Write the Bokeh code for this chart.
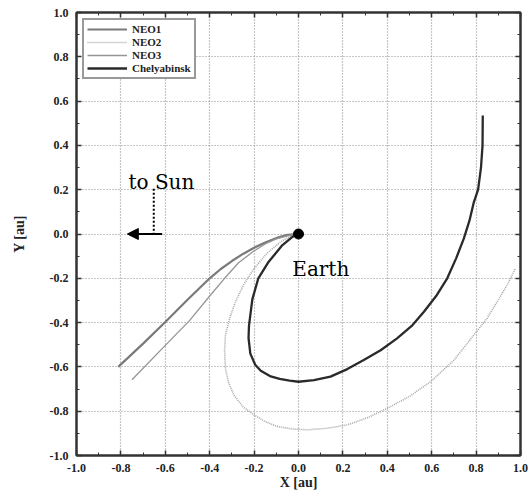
from bokeh.plotting import figure
from bokeh.models import (LinearAxis, Range1d, FixedTicker, PrintfTickFormatter,
                          Legend, LegendItem, Arrow, NormalHead, CustomLabelingPolicy)
from bokeh.core.properties import value
from bokeh.embed import file_html
from bokeh.resources import INLINE

# ---------------- data ----------------
major_ticks = [-1.0, -0.8, -0.6, -0.4, -0.2, 0.0, 0.2, 0.4, 0.6, 0.8, 1.0]
minor_ticks = [-0.9, -0.7, -0.5, -0.3, -0.1, 0.1, 0.3, 0.5, 0.7, 0.9]

neo1_x = [0, -0.05, -0.09, -0.15, -0.2, -0.25, -0.3, -0.35, -0.4, -0.45, -0.5, -0.6, -0.7, -0.812]
neo1_y = [0, -0.004, -0.015, -0.038, -0.062, -0.09, -0.122, -0.158, -0.2, -0.248, -0.297, -0.397, -0.495, -0.6]

neo2_x = [0, -0.04, -0.081, -0.14, -0.2, -0.245, -0.284, -0.31, -0.329, -0.333,
          -0.329, -0.315, -0.291, -0.25, -0.2, -0.15, -0.096, -0.03, 0.039, 0.13,
          0.219, 0.31, 0.4, 0.5, 0.595, 0.7, 0.79, 0.85, 0.895, 0.94, 0.977]
neo2_y = [0, -0.012, -0.036, -0.085, -0.156, -0.225, -0.306, -0.38, -0.456, -0.53,
          -0.607, -0.67, -0.727, -0.78, -0.817, -0.847, -0.869, -0.88, -0.884, -0.877,
          -0.862, -0.83, -0.787, -0.733, -0.667, -0.57, -0.456, -0.38, -0.306, -0.23, -0.156]

neo3_x = [0, -0.05, -0.1, -0.15, -0.2, -0.27, -0.333, -0.4, -0.49, -0.6, -0.75]
neo3_y = [0, -0.008, -0.022, -0.045, -0.076, -0.13, -0.2, -0.28, -0.39, -0.503, -0.658]

chel_x = [0, -0.03, -0.075, -0.137, -0.181, -0.208, -0.223, -0.225, -0.217, -0.195,
          -0.17, -0.125, -0.085, -0.04, 0.0, 0.07, 0.144, 0.22, 0.294, 0.37, 0.444,
          0.51, 0.565, 0.62, 0.67, 0.71, 0.745, 0.77, 0.79, 0.809, 0.822, 0.829, 0.83]
chel_y = [0, -0.015, -0.053, -0.129, -0.2, -0.295, -0.414, -0.47, -0.54, -0.59,
          -0.617, -0.643, -0.654, -0.662, -0.667, -0.66, -0.644, -0.61, -0.569, -0.525, -0.471,
          -0.415, -0.351, -0.28, -0.2, -0.11, -0.02, 0.06, 0.144, 0.2, 0.3, 0.4, 0.535]

earth_x = [0.0]
earth_y = [0.0]

note_x = [-0.766, -0.028]
note_y = [0.235, -0.156]
note_text = ["to Sun", "Earth"]

sun_dot_x = [-0.652, -0.652]
sun_dot_y = [0.204, 0.0]
sun_arrow_x = [-0.614, -0.771]
sun_arrow_y = [0.0, 0.0]

# ---------------- figure ----------------
p = figure(width=531, height=498, x_range=Range1d(-1, 1), y_range=Range1d(-1, 1),
           output_backend="svg", toolbar_location=None,
           min_border_left=76, min_border_right=11, min_border_top=12, min_border_bottom=43)
p.background_fill_color = "white"
p.border_fill_color = "white"
p.outline_line_color = "#333333"
p.outline_line_width = 2

ticker = FixedTicker(ticks=major_ticks, minor_ticks=minor_ticks)
fmt = PrintfTickFormatter(format="%.1f")
hide_all = CustomLabelingPolicy(code="""
    for (const i of indices) indices.unset(i)
    return indices
""")

def style_axis(ax, show_labels=True):
    ax.ticker = ticker
    ax.formatter = fmt
    ax.major_tick_in = 5
    ax.major_tick_out = 0
    ax.minor_tick_in = 3
    ax.minor_tick_out = 0
    ax.major_tick_line_color = "#333333"
    ax.minor_tick_line_color = "#333333"
    ax.major_tick_line_width = 1.5
    ax.axis_line_color = "#333333"
    ax.axis_line_width = 2
    ax.major_label_text_font = "Liberation Serif"
    ax.major_label_text_font_style = "bold"
    ax.major_label_text_color = "#222222"
    if show_labels:
        ax.major_label_text_font_size = "12px"
        ax.major_label_standoff = 8
    else:
        ax.major_label_text_font_size = "1px"
        ax.major_label_standoff = 0
        ax.major_label_policy = hide_all
    ax.axis_label_text_font = "Liberation Serif"
    ax.axis_label_text_font_style = "bold"
    ax.axis_label_text_font_size = "14px"
    ax.axis_label_text_color = "#222222"

style_axis(p.xaxis[0])
style_axis(p.yaxis[0])
p.xaxis.axis_label = "X [au]"
p.yaxis.axis_label = "Y [au]"
p.xaxis.axis_label_standoff = 0
p.yaxis.axis_label_standoff = 20

top_ax = LinearAxis()
right_ax = LinearAxis()
style_axis(top_ax, False)
style_axis(right_ax, False)
p.add_layout(top_ax, "above")
p.add_layout(right_ax, "right")

for g in (p.xgrid[0], p.ygrid[0]):
    g.ticker = ticker
    g.grid_line_color = "#8c8c8c"
    g.grid_line_dash = "1 2"
    g.grid_line_width = 1.2

# ---------------- series ----------------
r1 = p.line(neo1_x, neo1_y, line_color="#7a7a7a", line_width=2.2)
r2 = p.line(neo2_x, neo2_y, line_color="#a8a8a8", line_width=1.6, line_dash="1 1")
r3 = p.line(neo3_x, neo3_y, line_color="#959595", line_width=1.3)
r4 = p.line(chel_x, chel_y, line_color="#2a2a2a", line_width=2.3)

p.scatter(earth_x, earth_y, size=10, color="black")

p.text(x=note_x, y=note_y, text=note_text, text_font=value("DejaVu Serif"),
       text_font_size="20px", text_color="black", text_baseline="alphabetic",
       text_align="left")

p.line(sun_dot_x, sun_dot_y, line_color="black", line_width=2, line_dash="2 2")
p.add_layout(Arrow(end=NormalHead(size=11, fill_color="black", line_color="black"),
                   x_start=sun_arrow_x[0], y_start=sun_arrow_y[0],
                   x_end=sun_arrow_x[1], y_end=sun_arrow_y[1],
                   line_color="black", line_width=2))

legend = Legend(items=[LegendItem(label="NEO1", renderers=[r1]),
                       LegendItem(label="NEO2", renderers=[r2]),
                       LegendItem(label="NEO3", renderers=[r3]),
                       LegendItem(label="Chelyabinsk", renderers=[r4])],
                location="top_left")
legend.border_line_color = "#333333"
legend.border_line_width = 2
legend.background_fill_color = "white"
legend.background_fill_alpha = 1.0
legend.label_text_font = "Liberation Serif"
legend.label_text_font_size = "11px"
legend.label_text_font_style = "bold"
legend.label_text_color = "#222222"
legend.glyph_height = 12
legend.label_height = 12
legend.glyph_width = 40
legend.spacing = 1
legend.padding = 3
legend.margin = 6
p.add_layout(legend)

open("out.html", "w").write(file_html(p, INLINE))
